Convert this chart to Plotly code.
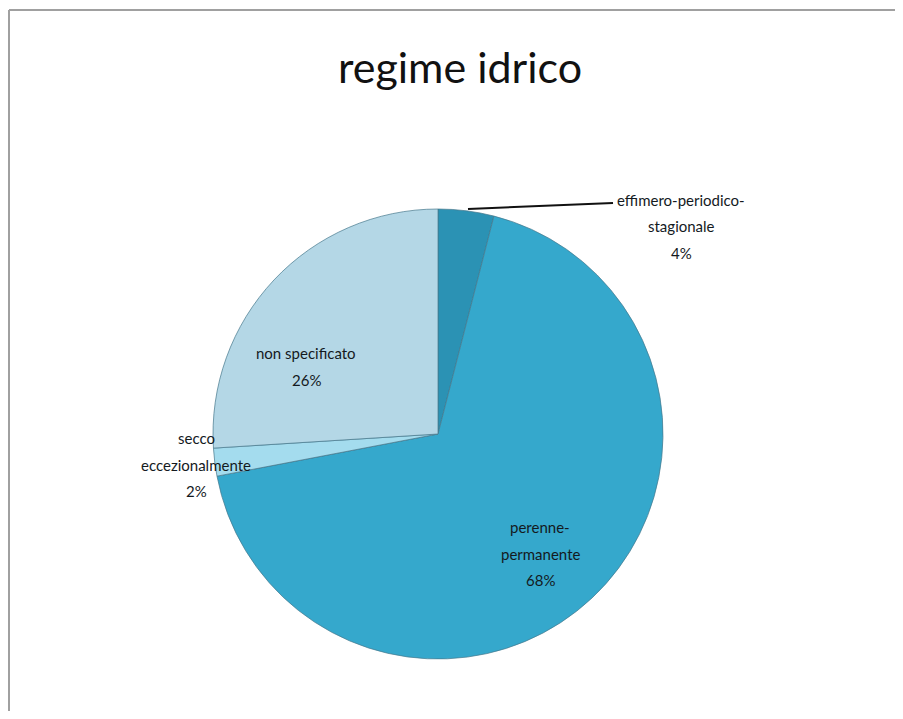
import plotly.graph_objects as go

categories = ["effimero-periodico-stagionale", "perenne-permanente", "secco eccezionalmente", "non specificato"]
values = [4, 68, 2, 26]
label_lines = [["effimero-periodico-", "stagionale", "4%"],
               ["perenne-", "permanente", "68%"],
               ["secco", "eccezionalmente", "2%"],
               ["non specificato", "26%"]]
colors = ["#2b92b4", "#35a8cc", "#a4dcee", "#b4d7e6"]

# page offset (body margin of the html page)
OFF = 8
W, H = 903 - OFF, 719 - 2 * OFF

def px(x):
    return (x - OFF) / W

def py(y):
    return 1 - (y - OFF) / H

cx, cy, r = 438, 434, 225

fig = go.Figure(go.Pie(
    labels=categories, values=values, sort=False, direction="clockwise",
    marker=dict(colors=colors, line=dict(color="rgba(70,120,140,0.7)", width=1)),
    textinfo="none", hoverinfo="label+percent", showlegend=False,
    domain=dict(x=[px(cx - r), px(cx + r)], y=[py(cy + r), py(cy - r)]),
))

lab_pos = [(681, 200), (540, 527), (196, 438), (306, 353)]
font = dict(family="Lato, Open Sans, sans-serif", size=15, color="#141a1e")
for (x, y), lines in zip(lab_pos, label_lines):
    for i, t in enumerate(lines):
        fig.add_annotation(x=px(x), y=py(y + i * 26.5), xref="paper", yref="paper", text=t,
                           showarrow=False, font=font, align="center",
                           xanchor="center", yanchor="middle")

fig.add_shape(type="line", xref="paper", yref="paper",
              x0=px(468), y0=py(209), x1=px(613), y1=py(203),
              line=dict(color="#111111", width=2))
# chart frame (top and left edges visible)
fig.add_shape(type="line", xref="paper", yref="paper",
              x0=px(9), y0=py(10), x1=1.0, y1=py(10),
              line=dict(color="#a0a0a0", width=2))
fig.add_shape(type="line", xref="paper", yref="paper",
              x0=px(9), y0=py(10), x1=px(9), y1=0.0,
              line=dict(color="#a0a0a0", width=2))

fig.update_layout(
    width=W, height=H, margin=dict(l=0, r=0, t=0, b=0),
    paper_bgcolor="white", plot_bgcolor="white",
    title=dict(text="regime idrico", x=px(460), y=py(68), xanchor="center", yanchor="middle",
               font=dict(family="Lato, Open Sans, sans-serif", size=43, color="#111111")),
)
fig.write_html("out.html")
